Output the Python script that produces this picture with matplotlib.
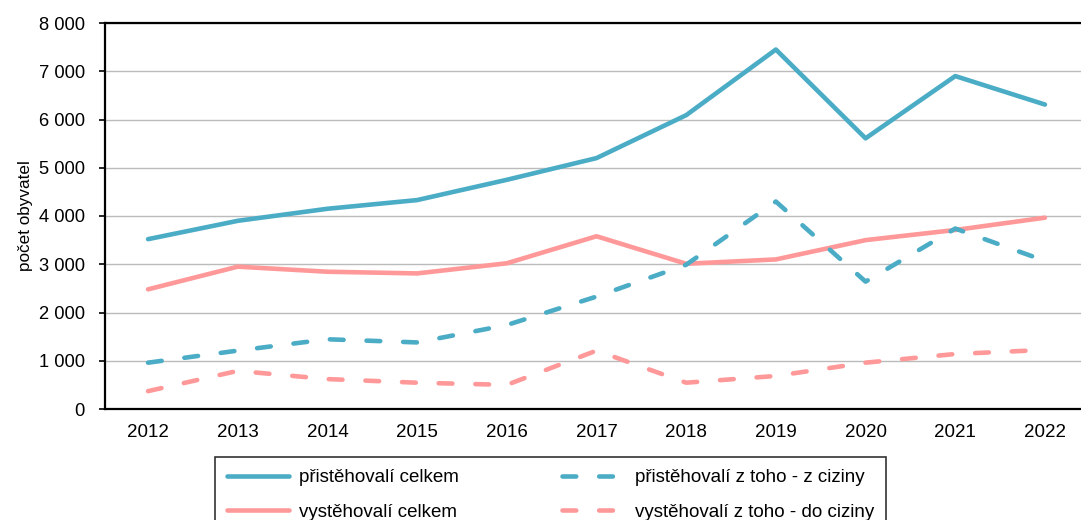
import matplotlib.pyplot as plt
from matplotlib.ticker import FuncFormatter

plt.rcParams['font.family'] = ['Liberation Sans', 'DejaVu Sans']

years = [2012, 2013, 2014, 2015, 2016, 2017, 2018, 2019, 2020, 2021, 2022]
prist_celkem = [3520, 3900, 4150, 4330, 4750, 5200, 6090, 7450, 5610, 6900, 6310]
vyst_celkem = [2480, 2950, 2845, 2810, 3020, 3580, 3010, 3100, 3500, 3710, 3965]
prist_cizina = [960, 1210, 1445, 1380, 1740, 2330, 2990, 4300, 2640, 3740, 3070]
vyst_cizina = [370, 790, 620, 545, 500, 1210, 545, 685, 960, 1140, 1225]

blue = '#4BACC6'
pink = '#FF9999'

fig = plt.figure(figsize=(10.81, 5.2), dpi=100)
ax = fig.add_axes([105 / 1081, 1 - 409 / 520, 983 / 1081, 386 / 520])

lw = 3.3
dash = (3.0, 5.0)
ax.plot(years, prist_celkem, color=blue, lw=lw, solid_capstyle='round',
        label='přistěhovalí celkem')
ax.plot(years, vyst_celkem, color=pink, lw=lw, solid_capstyle='round',
        label='vystěhovalí celkem')
ax.plot(years, prist_cizina, color=blue, lw=lw, dashes=dash,
        dash_capstyle='round', label='přistěhovalí z toho - z ciziny')
ax.plot(years, vyst_cizina, color=pink, lw=lw, dashes=dash,
        dash_capstyle='round', label='vystěhovalí z toho - do ciziny')

ax.set_xlim(2011.52, 2022.48)
ax.set_ylim(0, 8000)
ax.set_xticks(years)
ax.set_yticks(range(0, 8001, 1000))
ax.yaxis.set_major_formatter(FuncFormatter(lambda v, p: f'{int(v):,}'.replace(',', ' ')))
ax.grid(axis='y', color='#BBBBBB', lw=1.0)
ax.set_axisbelow(True)

for s in ['left', 'bottom', 'top']:
    ax.spines[s].set_linewidth(1.6)
    ax.spines[s].set_color('black')
ax.spines['right'].set_visible(False)

ax.tick_params(axis='x', length=0, pad=11, labelsize=13.5)
ax.tick_params(axis='y', length=4.5, width=1.2, pad=10, labelsize=13.2)
ax.set_ylabel('počet obyvatel', fontsize=12.3, labelpad=4)

leg = fig.legend(ncol=2, loc='upper left',
                 bbox_to_anchor=(215 / 1081, 1 - 457 / 520),
                 borderaxespad=0, fontsize=13.5, frameon=True, fancybox=False,
                 handlelength=3.3, handletextpad=0.55, columnspacing=5.5,
                 labelspacing=0.92, borderpad=0.65)
leg.get_frame().set_edgecolor('black')
leg.get_frame().set_linewidth(1.2)

fig.savefig('out.png', dpi=100)
